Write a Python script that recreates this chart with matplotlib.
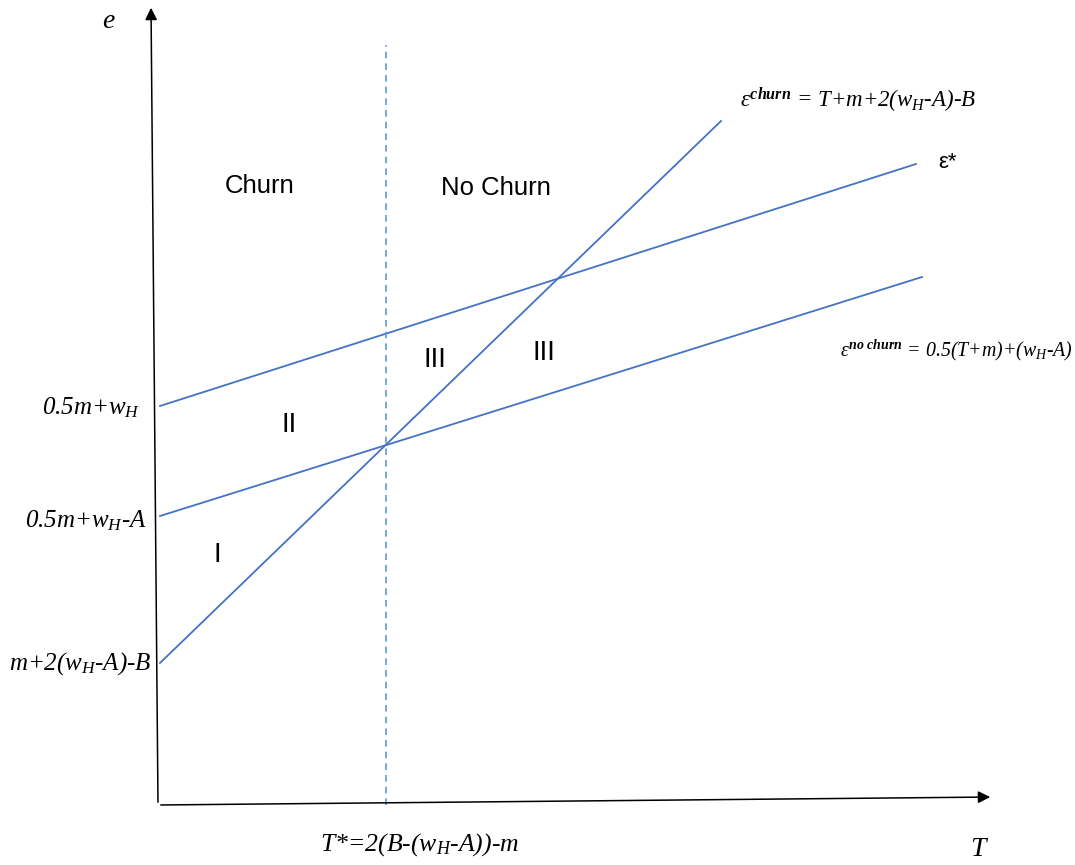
import matplotlib
matplotlib.use("Agg")
import matplotlib.pyplot as plt

plt.rcParams['mathtext.fontset'] = 'custom'
plt.rcParams['mathtext.rm'] = 'Liberation Serif:italic'
plt.rcParams['mathtext.it'] = 'Liberation Serif:italic'
plt.rcParams['mathtext.bf'] = 'Liberation Serif:bold:italic'

# line end points (T, e)
estar_T = [2, 758]
estar_e = [399, 641]
nochurn_T = [2, 764]
nochurn_e = [289, 528]
churn_T = [2, 563]
churn_e = [142, 684]
tstar_T = [228, 228]
tstar_e = [0, 760]

region_labels = ["I", "II", "III", "III"]
region_T = [59, 131, 277, 386]
region_e = [250, 380, 445, 452]

blue = "#4472C4"

fig = plt.figure(figsize=(10.75, 8.65), dpi=100)
ax = fig.add_axes([0, 0, 1, 1])
ax.set_xlim(-158, 1075 - 158)
ax.set_ylim(805 - 865, 805)
ax.axis("off")

# axes with arrows
ax.annotate("", xy=(835, 8), xytext=(0, 0),
            arrowprops=dict(arrowstyle="-|>", color="black", lw=1.1, mutation_scale=18))
ax.annotate("", xy=(-7, 800), xytext=(0, 0),
            arrowprops=dict(arrowstyle="-|>", color="black", lw=1.1, mutation_scale=18))

ax.plot(estar_T, estar_e, color=blue, lw=1.3)
ax.plot(nochurn_T, nochurn_e, color=blue, lw=1.3)
ax.plot(churn_T, churn_e, color=blue, lw=1.3)
ax.plot(tstar_T, tstar_e, color="#5B9BD5", lw=1.2, ls=(0, (4, 3)))

sans = "Liberation Sans"
ax.text(-50, 783, "e", fontsize=20, family="Liberation Serif", style="italic",
        ha="center", va="center")
ax.text(820, -45, "T", fontsize=20, family="Liberation Serif", style="italic",
        ha="center", va="center")

ax.text(102, 619, "Churn", fontsize=18.5, family=sans, ha="center", va="center")
ax.text(338, 617, "No Churn", fontsize=18.5, family=sans, ha="center", va="center")
for lab, t, e in zip(region_labels, region_T, region_e):
    ax.text(t, e, lab, fontsize=20, family=sans, ha="center", va="center")

mfs = 18
ax.text(-18, 397, r"$0.5m\text{+}w_H$", fontsize=mfs, ha="right", va="center")
ax.text(-11, 284, r"$0.5m\text{+}w_H\text{-}A$", fontsize=mfs, ha="right", va="center")
ax.text(-6, 141, r"$m\text{+}2(w_H\text{-}A)\text{-}B$", fontsize=mfs, ha="right", va="center")
ax.text(262, -40, r"$T\text{*=}2(B\text{-}(w_H\text{-}A))\text{-}m$", fontsize=18.5,
        ha="center", va="center")
ax.text(582, 705, r"$\varepsilon^{\mathbf{churn}}\text{ = }T\text{+}m\text{+}2(w_H\text{-}A)\text{-}B$",
        fontsize=16.5, ha="left", va="center")
ax.text(915, 455, r"$\varepsilon^{\mathbf{no\ churn}}\text{ = }0.5(T\text{+}m)\text{+}(w_H\text{-}A)$",
        fontsize=14.3, ha="right", va="center")
ax.text(780, 642, "ε*", fontsize=16, family=sans, ha="left", va="center")

fig.savefig("out.png", dpi=100)
